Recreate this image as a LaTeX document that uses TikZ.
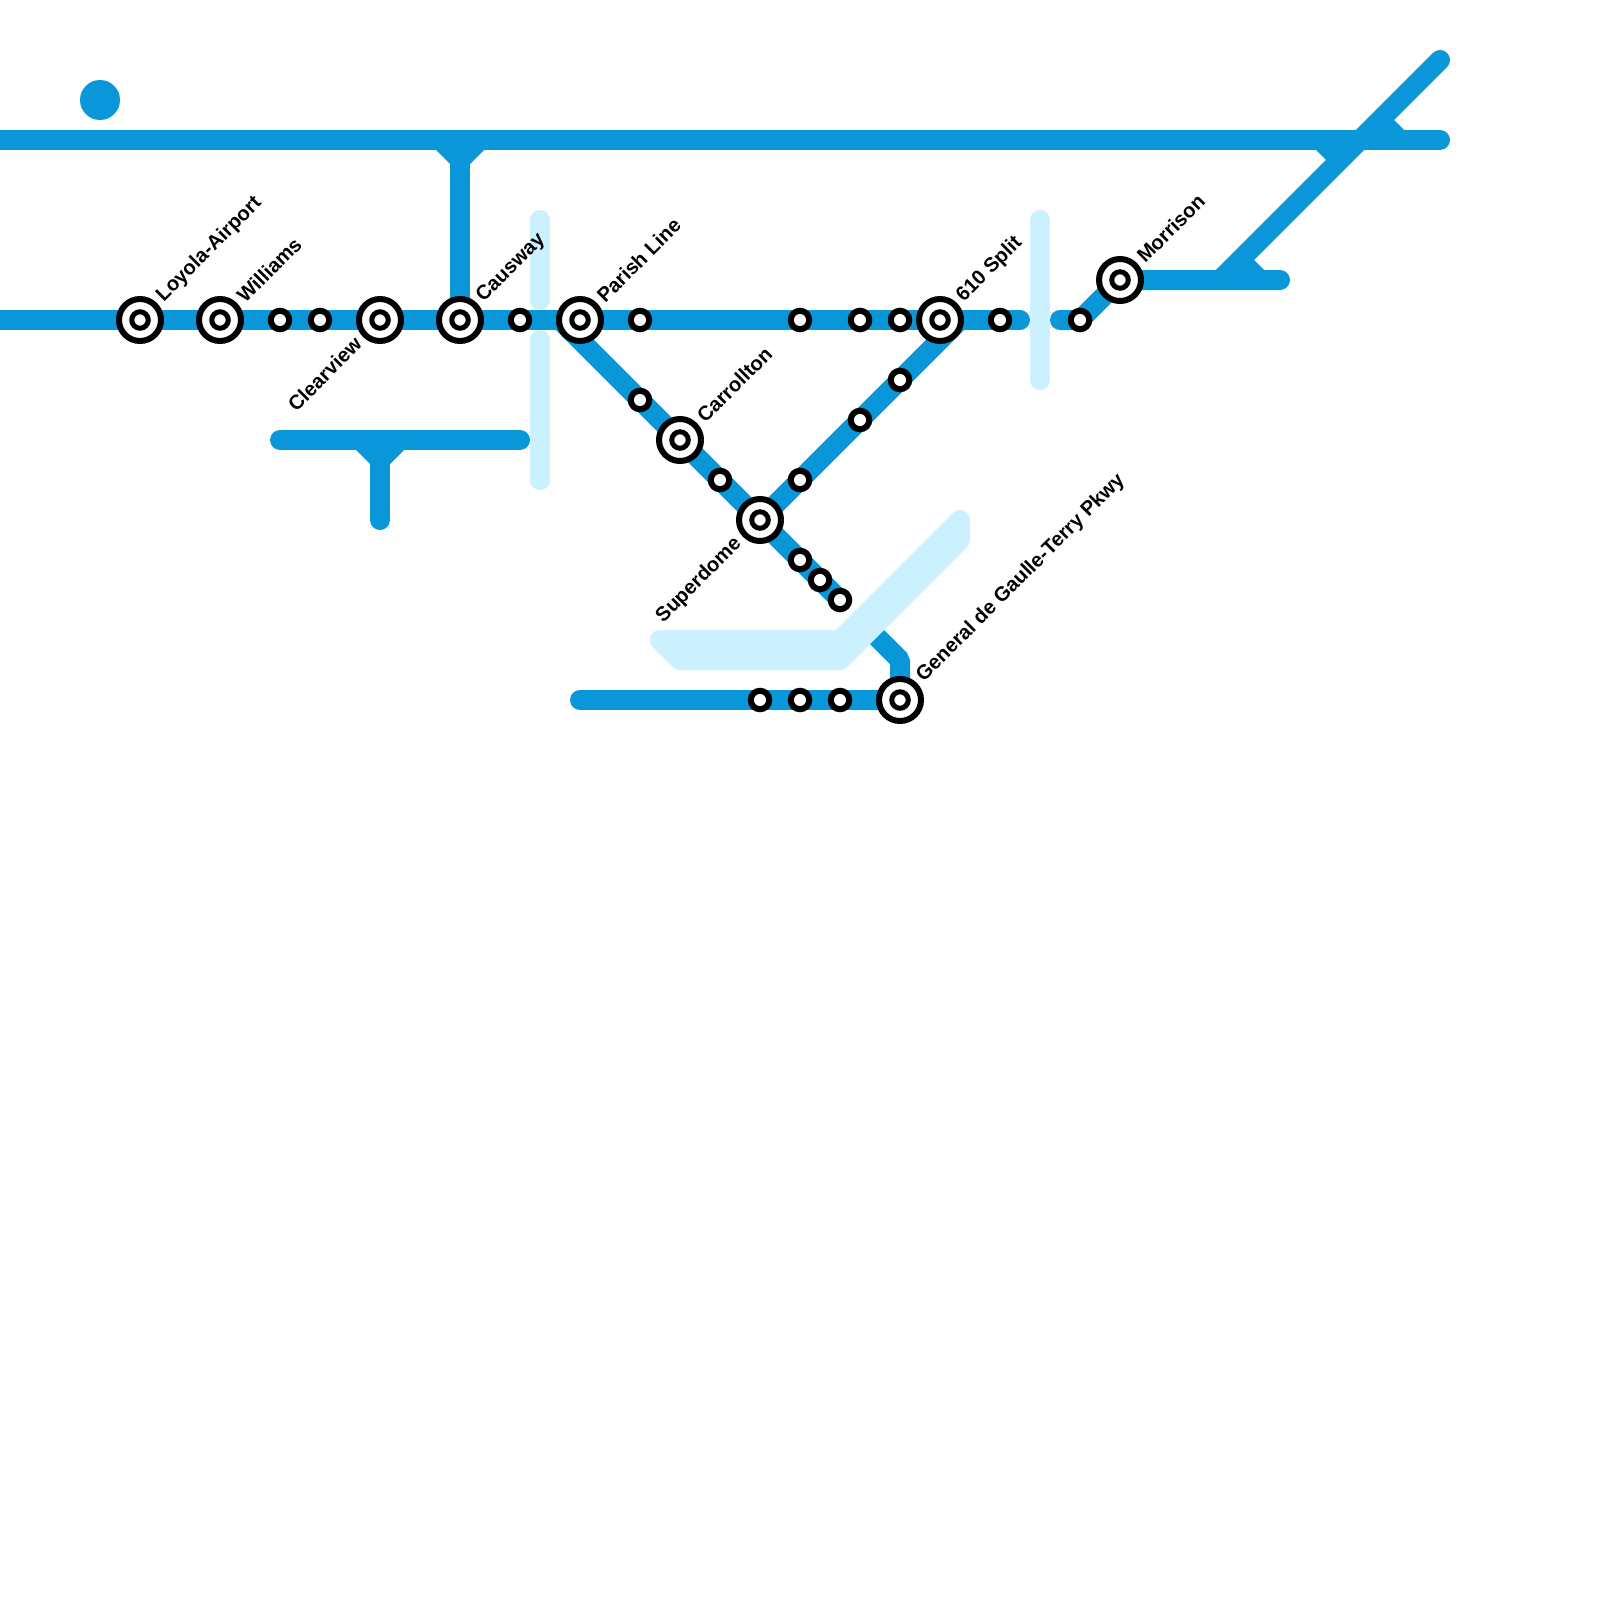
\documentclass[tikz,border=0pt]{standalone}
\usepackage{fontspec}
\setmainfont{Liberation Sans}
\definecolor{lineblue}{HTML}{0A97D9}
\definecolor{lightblue}{HTML}{CBF1FF}
\tikzset{
  x=1pt,y=-1pt,
  route/.style={draw=lineblue,line width=20pt,line cap=round,line join=round},
  routebutt/.style={draw=lineblue,line width=20pt,line cap=butt,line join=bevel},
  flare/.style={fill=lineblue,draw=none},
  closedline/.style={draw=lightblue,line width=20pt,line cap=round,line join=round},
  closedarea/.style={draw=lightblue,fill=lightblue,line width=20pt,line join=round},
  bigring/.style={circle,draw=black,fill=white,line width=6pt,minimum size=42pt,inner sep=0pt,outer sep=0pt},
  innerring/.style={circle,draw=black,fill=white,line width=5pt,minimum size=16.5pt,inner sep=0pt,outer sep=0pt},
  smallring/.style={circle,draw=black,fill=white,line width=6pt,minimum size=18.5pt,inner sep=0pt,outer sep=0pt},
  stlabel/.style={font=\fontsize{20.2}{24}\selectfont\bfseries,text=black,rotate=45,inner sep=0pt},
  labelne/.style={stlabel,anchor=west},
  labelsw/.style={stlabel,anchor=east},
}
\newcommand{\bigstop}[3]{\node[bigring] (#1) at (#2,#3) {}; \node[innerring] (#1in) at (#1) {};}
\newcommand{\smallstop}[3]{\node[smallring] (#1) at (#2,#3) {};}
\begin{document}
\begin{tikzpicture}
\path[use as bounding box,clip] (0,0) rectangle (1600,1600);
\fill[white] (0,0) rectangle (1600,1600);
% route coordinates
\coordinate (topW) at (-30,140);
\coordinate (topE) at (1440,140);
\coordinate (causN) at (460,140);
\coordinate (causS) at (460,320);
\coordinate (mainW) at (-30,320);
\coordinate (mainE) at (1020,320);
\coordinate (eastW) at (1060,320);
\coordinate (eastA) at (1080,320);
\coordinate (morr) at (1120,280);
\coordinate (eastE) at (1280,280);
\coordinate (diagS) at (1220,280);
\coordinate (diagN) at (1440,60);
\coordinate (clearW) at (280,440);
\coordinate (clearE) at (520,440);
\coordinate (clearT) at (380,440);
\coordinate (clearB) at (380,520);
\coordinate (nwA) at (560,320);
\coordinate (nwB) at (840,600);
\coordinate (gdA) at (860,620);
\coordinate (gdB) at (900,660);
\coordinate (gdC) at (900,700);
\coordinate (botW) at (580,700);
\coordinate (neA) at (960,320);
\coordinate (neB) at (760,520);
% disc
\node[circle,fill=lineblue,minimum size=40pt,inner sep=0pt,outer sep=0pt] (disc) at (100,100) {};
% routes
\draw[route] (topW) -- (topE);
\draw[route] (causN) -- (causS);
\draw[route] (mainW) -- (mainE);
\draw[route] (eastW) -- (eastA) -- (morr) -- (eastE);
\draw[route] (diagS) -- (diagN);
\draw[route] (clearW) -- (clearE);
\draw[route] (clearT) -- (clearB);
\draw[routebutt] (nwA) -- (nwB);
\draw[routebutt] (gdA) -- (gdB) -- (gdC);
\draw[route] (botW) -- (gdC);
\draw[routebutt] (neA) -- (neB);
% junction flares
\fill[flare] (436,145) -- (436,150) -- (450,164) -- (470,164) -- (484,150) -- (484,145) -- cycle;
\fill[flare] (356,445) -- (356,450) -- (370,464) -- (390,464) -- (404,450) -- (404,445) -- cycle;
\fill[flare] (1254,260) -- (1264,270) -- (1264,275) -- (1216,275) -- cycle;
\fill[flare] (1394,120) -- (1404,130) -- (1404,135) -- (1357,135) -- cycle;
\fill[flare] (1316,150) -- (1326,160) -- (1345,160) -- (1364,145) -- (1316,145) -- cycle;
% closed sections
\draw[closedline] (540,220) -- (540,300);
\draw[closedline] (540,340) -- (540,480);
\draw[closedline] (1040,220) -- (1040,380);
\draw[closedarea] (660,640) -- (840,640) -- (960,520) -- (960,540) -- (840,660) -- (680,660) -- cycle;
% stations
\bigstop{loyola}{140}{320}
\bigstop{williams}{220}{320}
\smallstop{sa}{280}{320}
\smallstop{sb}{320}{320}
\bigstop{clearview}{380}{320}
\bigstop{causway}{460}{320}
\smallstop{sc}{520}{320}
\bigstop{parish}{580}{320}
\smallstop{sd}{640}{320}
\smallstop{se}{800}{320}
\smallstop{sf}{860}{320}
\smallstop{sg}{900}{320}
\bigstop{split}{940}{320}
\smallstop{sh}{1000}{320}
\smallstop{si}{1080}{320}
\bigstop{morrison}{1120}{280}
\smallstop{sj}{640}{400}
\bigstop{carrollton}{680}{440}
\smallstop{sk}{720}{480}
\bigstop{superdome}{760}{520}
\smallstop{sl}{800}{560}
\smallstop{sm}{820}{580}
\smallstop{sn}{840}{600}
\smallstop{so}{800}{480}
\smallstop{sp}{860}{420}
\smallstop{sq}{900}{380}
\smallstop{sr}{760}{700}
\smallstop{ss}{800}{700}
\smallstop{st}{840}{700}
\bigstop{gaulle}{900}{700}
% labels
\node[labelne] (lloyola) at ([shift={(20,-21)}]loyola) {Loyola-Airport};
\node[labelne] (lwilliams) at ([shift={(20,-21)}]williams) {Williams};
\node[labelne] (lcausway) at ([shift={(20,-21)}]causway) {Causway};
\node[labelne] (lparish) at ([shift={(20,-21)}]parish) {Parish Line};
\node[labelne] (lsplit) at ([shift={(20,-21)}]split) {610 Split};
\node[labelne] (lmorrison) at ([shift={(20,-21)}]morrison) {Morrison};
\node[labelne] (lcarrollton) at ([shift={(20,-21)}]carrollton) {Carrollton};
\node[labelne] (lgaulle) at ([shift={(20,-21)}]gaulle) {General de Gaulle-Terry Pkwy};
\node[labelsw] (lclearview) at ([shift={(-22,20.5)}]clearview) {Clearview};
\node[labelsw] (lsuperdome) at ([shift={(-21.5,21)}]superdome) {Superdome};
\end{tikzpicture}
\end{document}
